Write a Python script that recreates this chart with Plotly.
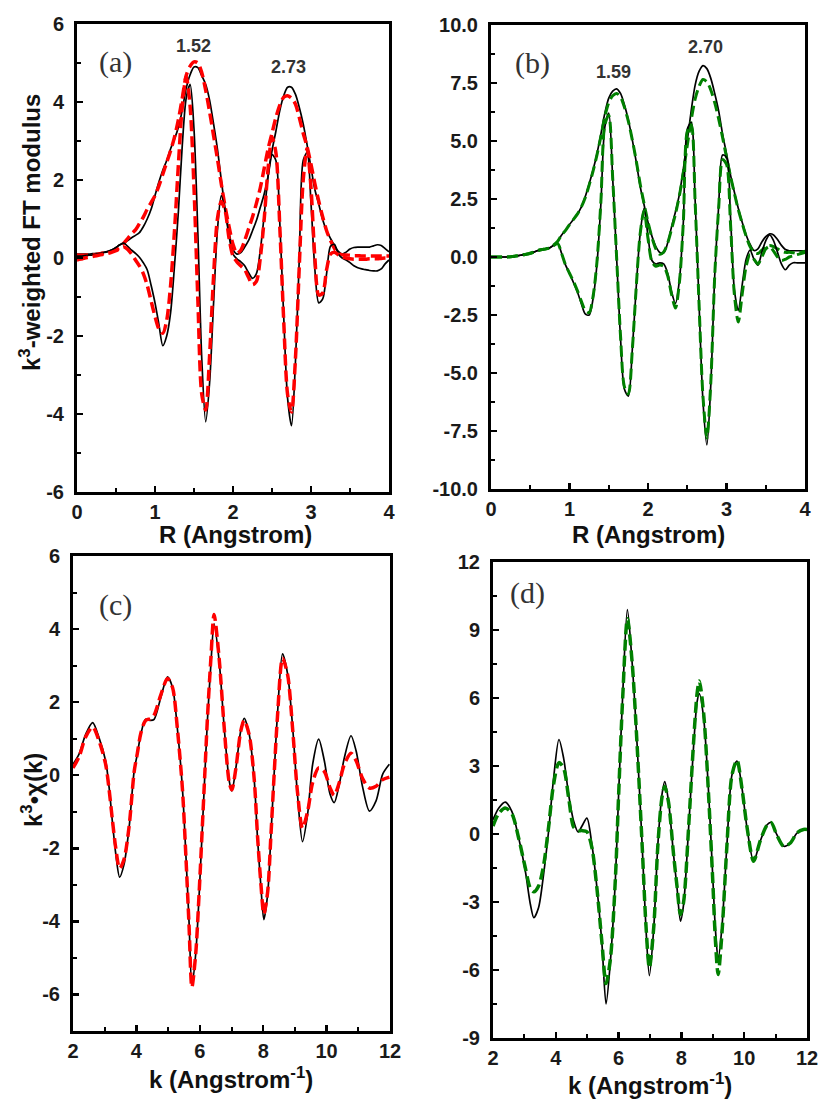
import plotly.graph_objects as go

W, H = 820, 1099

# ---------------- data: panel (a) ----------------
R_GRID = [round(i * 0.05, 2) for i in range(81)]  # R sample positions 0..4 Angstrom

A_MAG_EXP = [0.10, 0.10, 0.10, 0.10, 0.11, 0.12, 0.13, 0.15, 0.17, 0.21,
             0.27, 0.34, 0.38, 0.45, 0.52, 0.58, 0.65, 0.80, 1.00, 1.25,
             1.60, 1.95, 2.25, 2.50, 2.80, 3.05, 3.35, 3.80, 4.35, 4.70,
             4.90, 4.88, 4.67, 4.45, 4.05, 3.45, 2.80, 2.00, 1.25, 0.65,
             0.22, 0.10, 0.14, 0.28, 0.45, 0.70, 0.96, 1.30, 1.64, 2.10,
             2.75, 3.25, 3.78, 4.16, 4.38, 4.38, 4.20, 3.86, 3.44, 2.90,
             2.32, 1.75, 1.38, 0.98, 0.70, 0.50, 0.32, 0.17, 0.10, 0.15,
             0.23, 0.27, 0.28, 0.28, 0.28, 0.28, 0.31, 0.34, 0.32, 0.24, 0.16]
A_IM_EXP = [0.05, 0.05, 0.06, 0.07, 0.08, 0.10, 0.12, 0.14, 0.17, 0.21,
            0.27, 0.34, 0.38, 0.30, 0.20, 0.12, 0.02, -0.12, -0.30, -0.70,
            -1.15, -1.70, -2.25, -2.00, -1.40, -0.20, 1.20, 2.90, 4.10, 4.45,
            3.30, 0.60, -2.60, -4.20, -3.20, -1.20, 0.70, 1.60, 1.20, 0.55,
            0.10, -0.02, -0.10, -0.20, -0.38, -0.52, -0.40, 0.20, 1.10, 2.10,
            2.65, 2.50, 0.90, -1.50, -3.60, -4.30, -2.70, 0.00, 2.50, 2.70,
            1.40, -0.30, -1.15, -1.05, -0.40, 0.30, 0.35, 0.10, 0.00, -0.05,
            -0.12, -0.20, -0.25, -0.28, -0.30, -0.32, -0.33, -0.33, -0.28, -0.15, -0.05]
A_MAG_FIT = [0.08, 0.07, 0.07, 0.08, 0.08, 0.09, 0.11, 0.13, 0.15, 0.17,
             0.21, 0.28, 0.38, 0.50, 0.62, 0.72, 0.88, 1.05, 1.25, 1.42,
             1.60, 1.85, 2.15, 2.45, 2.75, 3.10, 3.55, 4.10, 4.68, 4.92,
             5.03, 5.00, 4.75, 4.30, 3.75, 3.15, 2.55, 1.90, 1.30, 0.80,
             0.35, 0.12, 0.20, 0.45, 0.75, 1.05, 1.40, 1.80, 2.30, 2.80,
             3.20, 3.60, 3.92, 4.12, 4.16, 4.10, 3.95, 3.60, 3.20, 2.85,
             2.40, 1.90, 1.45, 1.05, 0.70, 0.45, 0.25, 0.12, 0.08, 0.08,
             0.07, 0.06, 0.06, 0.05, 0.05, 0.05, 0.05, 0.05, 0.05, 0.05, 0.05]
A_IM_FIT = [-0.05, -0.03, 0.00, 0.02, 0.04, 0.06, 0.08, 0.10, 0.12, 0.15,
            0.19, 0.24, 0.28, 0.22, 0.10, -0.05, -0.20, -0.40, -0.70, -1.10,
            -1.50, -1.82, -1.93, -1.60, -0.70, 0.70, 2.40, 3.90, 4.65, 3.90,
            1.80, -1.10, -3.50, -3.90, -2.50, -0.50, 1.00, 1.45, 1.20, 0.50,
            0.05, -0.10, -0.20, -0.30, -0.50, -0.68, -0.60, 0.00, 1.00, 2.30,
            3.10, 2.70, 0.80, -1.60, -3.50, -3.95, -2.60, -0.20, 2.00, 2.80,
            1.80, 0.00, -0.95, -0.90, -0.30, 0.10, 0.15, 0.08, 0.03, 0.00,
            -0.02, -0.03, -0.03, -0.03, -0.03, -0.02, -0.02, -0.02, -0.01, 0.00, 0.00]

# ---------------- data: panel (b) ----------------
B_MAG_EXP = [0.00, 0.00, 0.00, 0.00, 0.00, 0.01, 0.03, 0.06, 0.09, 0.12,
             0.16, 0.22, 0.28, 0.32, 0.35, 0.40, 0.52, 0.68, 0.95, 1.15,
             1.40, 1.62, 1.85, 2.15, 2.60, 3.15, 3.75, 4.45, 5.30, 6.20,
             6.85, 7.15, 7.25, 7.05, 6.55, 5.90, 5.05, 4.10, 3.05, 2.25,
             1.50, 0.90, 0.45, 0.20, 0.18, 0.60, 1.30, 1.95, 2.70, 3.80,
             5.00, 6.30, 7.40, 8.00, 8.25, 8.12, 7.70, 7.05, 6.30, 5.30,
             4.45, 3.55, 2.80, 2.10, 1.50, 0.95, 0.55, 0.28, 0.35, 0.65,
             0.88, 1.00, 0.95, 0.75, 0.50, 0.32, 0.27, 0.27, 0.27, 0.27, 0.27]
B_IM_EXP = [0.00, 0.00, 0.00, 0.00, 0.00, 0.01, 0.03, 0.06, 0.09, 0.12,
            0.16, 0.22, 0.28, 0.32, 0.35, 0.40, 0.50, 0.58, 0.15, -0.35,
            -0.70, -1.10, -1.50, -2.00, -2.45, -2.50, -1.80, -0.30, 2.30, 5.60,
            6.20, 3.40, 0.00, -3.50, -5.70, -6.00, -4.00, -1.30, 1.00, 2.10,
            0.90, -0.15, -0.30, -0.25, -0.30, -0.70, -1.50, -2.00, -1.00, 1.50,
            5.50, 5.80, 2.50, -2.00, -6.20, -8.10, -5.50, -0.80, 2.20, 4.40,
            4.30, 1.80, -1.40, -2.30, -1.20, -0.10, 0.30, -0.10, -0.35, 0.20,
            0.70, 0.95, 0.70, 0.20, -0.30, -0.55, -0.35, -0.25, -0.25, -0.25, -0.25]
B_MAG_FIT = [0.00, 0.00, 0.00, 0.00, 0.00, 0.01, 0.03, 0.06, 0.09, 0.12,
             0.16, 0.22, 0.28, 0.32, 0.35, 0.40, 0.52, 0.68, 0.95, 1.15,
             1.40, 1.62, 1.85, 2.15, 2.55, 3.10, 3.70, 4.40, 5.20, 6.05,
             6.65, 6.95, 7.05, 6.90, 6.45, 5.85, 5.05, 4.15, 3.15, 2.30,
             1.50, 0.85, 0.35, 0.12, 0.22, 0.60, 1.20, 1.85, 2.65, 3.65,
             4.80, 5.90, 6.80, 7.35, 7.65, 7.55, 7.20, 6.65, 5.95, 5.15,
             4.30, 3.50, 2.75, 2.05, 1.45, 0.90, 0.45, 0.20, 0.15, 0.30,
             0.45, 0.50, 0.45, 0.35, 0.25, 0.20, 0.20, 0.18, 0.15, 0.20, 0.25]
B_IM_FIT = [0.00, 0.00, 0.00, 0.00, 0.00, 0.01, 0.03, 0.06, 0.09, 0.12,
            0.16, 0.22, 0.28, 0.32, 0.35, 0.40, 0.50, 0.58, 0.15, -0.35,
            -0.70, -1.05, -1.45, -1.90, -2.30, -2.40, -1.70, -0.20, 2.40, 5.70,
            6.10, 3.40, 0.00, -3.40, -5.60, -5.90, -4.00, -1.30, 1.00, 2.00,
            0.80, -0.20, -0.40, -0.35, -0.40, -0.80, -1.60, -2.20, -1.10, 1.50,
            5.40, 5.70, 2.40, -2.00, -6.00, -7.80, -5.40, -0.80, 2.10, 4.20,
            4.00, 1.50, -1.60, -2.80, -1.60, -0.40, 0.10, -0.10, -0.30, 0.00,
            0.35, 0.45, 0.25, 0.00, -0.15, -0.10, 0.00, 0.05, 0.10, 0.15, 0.20]

# ---------------- data: panel (c) ----------------
C_K = [2.00, 2.19, 2.40, 2.62, 2.82, 3.03, 3.14, 3.24, 3.35, 3.47, 3.61, 3.77,
       3.93, 4.03, 4.14, 4.29, 4.45, 4.56, 4.77, 4.98, 5.14, 5.29, 5.45, 5.56,
       5.66, 5.75, 5.87, 5.98, 6.14, 6.24, 6.35, 6.45, 6.61, 6.77, 6.93, 7.01,
       7.14, 7.29, 7.40, 7.56, 7.72, 7.82, 7.93, 8.02, 8.14, 8.24, 8.35, 8.45,
       8.61, 8.77, 8.93, 9.08, 9.24, 9.40, 9.56, 9.75, 9.93, 10.11, 10.24,
       10.40, 10.56, 10.77, 10.93, 11.14, 11.35, 11.56, 11.77, 11.98]
C_EXP = [0.30, 0.58, 1.12, 1.44, 1.03, 0.39, -0.34, -1.25, -2.16, -2.79, -2.44, -1.43,
         0.12, 0.58, 1.12, 1.53, 1.50, 1.53, 2.13, 2.69, 2.40, 1.30, -0.34, -2.16,
         -4.00, -5.75, -4.90, -3.26, -0.34, 1.49, 3.04, 4.14, 3.13, 1.30, -0.16, -0.43,
         0.21, 1.21, 1.56, 1.12, -0.16, -1.71, -3.08, -3.95, -3.26, -1.71, 0.12, 1.67,
         3.32, 2.77, 1.30, -0.52, -1.82, -1.07, 0.30, 0.99, 0.39, -0.52, -0.75,
         -0.25, 0.48, 1.08, 0.67, -0.34, -0.98, -0.70, 0.03, 0.30]
C_FIT = [0.20, 0.50, 1.05, 1.32, 0.95, 0.30, -0.40, -1.20, -2.00, -2.55, -2.30, -1.40,
         0.10, 0.60, 1.15, 1.50, 1.55, 1.65, 2.20, 2.65, 2.40, 1.30, -0.35, -2.20,
         -4.10, -5.80, -4.90, -3.20, -0.30, 1.55, 3.20, 4.40, 3.20, 1.30, -0.20, -0.40,
         0.20, 1.20, 1.50, 1.10, -0.15, -1.65, -3.00, -3.80, -3.20, -1.70, 0.10, 1.60,
         3.20, 2.75, 1.25, -0.45, -1.45, -1.00, -0.20, 0.20, 0.10, -0.35, -0.55,
         -0.20, 0.30, 0.60, 0.40, -0.10, -0.35, -0.30, -0.12, -0.05]

# ---------------- data: panel (d) ----------------
D_K = [2.00, 2.18, 2.39, 2.60, 2.82, 3.03, 3.19, 3.30, 3.45, 3.61, 3.77, 3.93,
       4.10, 4.25, 4.41, 4.57, 4.71, 4.83, 4.99, 5.15, 5.31, 5.47, 5.60, 5.74,
       5.90, 6.00, 6.13, 6.28, 6.43, 6.59, 6.75, 6.87, 6.98, 7.12, 7.25, 7.38,
       7.47, 7.59, 7.75, 7.86, 7.97, 8.07, 8.23, 8.39, 8.50, 8.57, 8.71, 8.87,
       9.00, 9.08, 9.17, 9.29, 9.45, 9.61, 9.77, 9.93, 10.09, 10.30, 10.51,
       10.73, 10.86, 11.04, 11.26, 11.47, 11.68, 11.89, 12.00]
D_EXP = [0.63, 1.14, 1.41, 1.00, -0.18, -1.64, -3.10, -3.69, -3.25, -1.79, 0.12, 2.46,
         4.17, 3.34, 1.73, 0.56, 0.09, 0.34, 0.70, -0.47, -2.37, -4.86, -7.50, -5.59,
         -1.93, 1.73, 6.12, 9.90, 7.58, 3.92, -0.47, -4.13, -6.25, -4.13, -0.47, 1.73,
         2.31, 1.43, -0.91, -2.37, -3.84, -3.10, 0.26, 3.92, 5.83, 6.19, 5.10, 1.73,
         -1.93, -4.13, -5.52, -4.13, -0.47, 2.61, 3.22, 2.02, 0.26, -1.20, -0.32,
         0.41, 0.51, -0.03, -0.54, -0.40, 0.04, 0.19, 0.19]
D_FIT = [0.35, 0.90, 1.15, 0.90, -0.20, -1.50, -2.40, -2.55, -2.30, -1.40, 0.30, 2.20,
         3.15, 2.90, 1.60, 0.30, 0.15, 0.15, 0.10, -0.60, -2.40, -4.80, -6.60, -5.50,
         -1.90, 1.70, 6.00, 9.50, 7.60, 3.90, -0.50, -4.00, -5.90, -4.10, -0.50, 1.60,
         2.10, 1.40, -0.90, -2.30, -3.55, -3.00, 0.30, 4.10, 6.20, 6.75, 5.30, 1.60,
         -2.10, -4.60, -6.20, -4.40, -0.50, 2.60, 3.25, 2.00, 0.30, -1.20, -0.30,
         0.40, 0.50, -0.05, -0.55, -0.40, 0.05, 0.20, 0.20]

# ---------------- tick labels ----------------
A_XTICKS = [0, 1, 2, 3, 4]
A_XTEXT = ["0", "1", "2", "3", "4"]
A_YTICKS = [-6, -4, -2, 0, 2, 4, 6]
A_YTEXT = ["-6", "-4", "-2", "0", "2", "4", "6"]
B_YTICKS = [-10, -7.5, -5, -2.5, 0, 2.5, 5, 7.5, 10]
B_YTEXT = ["-10.0", "-7.5", "-5.0", "-2.5", "0.0", "2.5", "5.0", "7.5", "10.0"]
K_TICKS = [2, 4, 6, 8, 10, 12]
K_TEXT = ["2", "4", "6", "8", "10", "12"]
C_YTICKS = [-6, -4, -2, 0, 2, 4, 6]
C_YTEXT = ["-6", "-4", "-2", "0", "2", "4", "6"]
D_YTICKS = [-9, -6, -3, 0, 3, 6, 9, 12]
D_YTEXT = ["-9", "-6", "-3", "0", "3", "6", "9", "12"]

PEAK_LABELS_A = [("1.52", 193, 46), ("2.73", 288, 67)]
PEAK_LABELS_B = [("1.59", 613, 72), ("2.70", 705, 47)]

# ---------------- styling ----------------
EXP_COLOR = "black"
FIT_A = "#ff0000"
FIT_B = "#008000"
FONT = "Liberation Sans, Arial, sans-serif"
SERIF = "Liberation Serif, Times New Roman, serif"


def px_x(p):
    return p / W


def px_y(p):
    return 1 - p / H


fig = go.Figure()


def add_pair(x, yexp, yfit, color, xa, ya, width=3.5):
    fig.add_trace(go.Scatter(x=x, y=yexp, mode="lines", xaxis=xa, yaxis=ya,
                             line=dict(color=EXP_COLOR, width=1.7, shape="spline", smoothing=0.8),
                             showlegend=False))
    fig.add_trace(go.Scatter(x=x, y=yfit, mode="lines", xaxis=xa, yaxis=ya,
                             line=dict(color=color, width=width, dash="11px,5px",
                                       shape="spline", smoothing=0.8),
                             showlegend=False))


add_pair(R_GRID, A_MAG_EXP, A_MAG_FIT, FIT_A, "x", "y")
add_pair(R_GRID, A_IM_EXP, A_IM_FIT, FIT_A, "x", "y")
add_pair(R_GRID, B_MAG_EXP, B_MAG_FIT, FIT_B, "x2", "y2", width=3)
add_pair(R_GRID, B_IM_EXP, B_IM_FIT, FIT_B, "x2", "y2", width=3)
add_pair(C_K, C_EXP, C_FIT, FIT_A, "x3", "y3")
add_pair(D_K, D_EXP, D_FIT, FIT_B, "x4", "y4", width=3.5)


def bold(labels):
    return ["<b>%s</b>" % s for s in labels]


def axis(rng, tv, tt, minor_dtick, dom, anchor, standoff):
    return dict(range=rng, domain=dom, anchor=anchor, automargin=False,
                tickmode="array", tickvals=tv, ticktext=bold(tt),
                ticks="inside", ticklen=6, tickwidth=2.5, tickcolor="black",
                showline=True, linewidth=3, linecolor="black", mirror=True,
                showgrid=False, zeroline=False,
                tickfont=dict(family=FONT, size=20, color="#1a1a1a"),
                ticklabelstandoff=standoff,
                minor=dict(tickmode="linear", tick0=0, dtick=minor_dtick,
                           ticks="inside", ticklen=4, tickwidth=2, tickcolor="black",
                           showgrid=False))


BOX = {
    "a": ((77, 389), (24, 492)),
    "b": ((491, 805), (25, 489)),
    "c": ((73, 390), (556, 1031)),
    "d": ((493, 807), (562, 1038)),
}


def xdom(k):
    return [px_x(BOX[k][0][0]), px_x(BOX[k][0][1])]


def ydom(k):
    return [px_y(BOX[k][1][1]), px_y(BOX[k][1][0])]


XS, YS = 0, 6
fig.update_layout(
    template="none",
    width=W, height=H,
    margin=dict(l=0, r=0, t=0, b=0, pad=0, autoexpand=False),
    paper_bgcolor="white", plot_bgcolor="white",
    showlegend=False,
    xaxis=axis([0, 4], A_XTICKS, A_XTEXT, 0.5, xdom("a"), "y", XS),
    yaxis=axis([-6, 6], A_YTICKS, A_YTEXT, 1, ydom("a"), "x", YS),
    xaxis2=axis([0, 4], A_XTICKS, A_XTEXT, 0.5, xdom("b"), "y2", XS),
    yaxis2=axis([-10, 10], B_YTICKS, B_YTEXT, 1.25, ydom("b"), "x2", YS),
    xaxis3=axis([2, 12], K_TICKS, K_TEXT, 1, xdom("c"), "y3", XS),
    yaxis3=axis([-7, 6], C_YTICKS, C_YTEXT, 1, ydom("c"), "x3", YS),
    xaxis4=axis([2, 12], K_TICKS, K_TEXT, 1, xdom("d"), "y4", XS),
    yaxis4=axis([-9, 12], D_YTICKS, D_YTEXT, 1.5, ydom("d"), "x4", YS),
)

ann = []


def text(t, x, y, size, family=FONT, color="#111", angle=0):
    ann.append(dict(text=t, x=px_x(x), y=px_y(y), xref="paper", yref="paper",
                    showarrow=False, xanchor="center", yanchor="middle",
                    textangle=angle,
                    font=dict(family=family, size=size, color=color)))


text("<b>R (Angstrom)</b>", 236, 534, 24)
text("<b>R (Angstrom)</b>", 648, 534, 24)
text("<b>k (Angstrom<sup>-1</sup>)</b>", 231, 1078, 24)
text("<b>k (Angstrom<sup>-1</sup>)</b>", 650, 1084, 24)
text("<b>k<sup>3</sup>-weighted FT modulus</b>", 30, 233, 24, angle=-90)
text("<b>k<sup>3</sup>\u2022\u03c7(k)</b>", 32, 790, 24, angle=-90)

text("(a)", 115, 62, 30, family=SERIF, color="#333")
text("(b)", 532, 63, 30, family=SERIF, color="#333")
text("(c)", 116, 605, 30, family=SERIF, color="#333")
text("(d)", 527, 593, 30, family=SERIF, color="#333")

for t, x, y in PEAK_LABELS_A + PEAK_LABELS_B:
    text("<b>%s</b>" % t, x, y, 18, color="#333")

fig.update_layout(annotations=ann)

fig.write_html("out.html",
               config={"displayModeBar": False, "staticPlot": True},
               post_script="document.body.style.margin='0';document.body.style.overflow='hidden';")
